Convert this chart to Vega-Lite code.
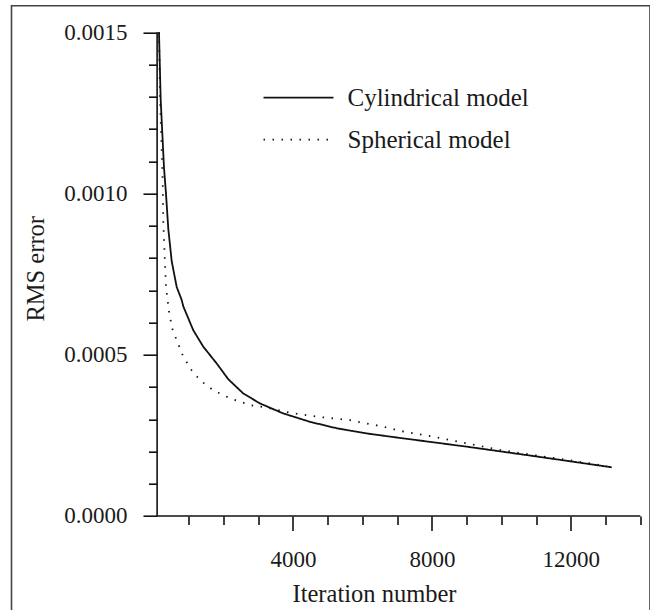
{
  "$schema": "https://vega.github.io/schema/vega-lite/v6.json",
  "width": 638.5,
  "height": 608.3,
  "autosize": {"type": "none"},
  "padding": {"left": 11.5, "top": 5.7, "right": 0, "bottom": 0},
  "background": "white",
  "config": {"view": {"stroke": "#444", "strokeWidth": 1.6}, "font": "Liberation Serif, Times New Roman, serif"},
  "datasets": {
    "axes": [
      {"iteration": 90, "iteration2": 14000, "rms": 0, "rms2": 0},
      {"iteration": 90, "iteration2": 90, "rms": 0, "rms2": 0.0015}
    ],
    "curves": [
      {"model": "Cylindrical model", "iteration": 144, "rms": 0.0015},
      {"model": "Cylindrical model", "iteration": 193, "rms": 0.00129},
      {"model": "Cylindrical model", "iteration": 288, "rms": 0.00108},
      {"model": "Cylindrical model", "iteration": 345, "rms": 0.001},
      {"model": "Cylindrical model", "iteration": 412, "rms": 0.00089},
      {"model": "Cylindrical model", "iteration": 510, "rms": 0.00079},
      {"model": "Cylindrical model", "iteration": 654, "rms": 0.00071},
      {"model": "Cylindrical model", "iteration": 797, "rms": 0.00067},
      {"model": "Cylindrical model", "iteration": 844, "rms": 0.00065},
      {"model": "Cylindrical model", "iteration": 1131, "rms": 0.000576},
      {"model": "Cylindrical model", "iteration": 1419, "rms": 0.000525},
      {"model": "Cylindrical model", "iteration": 1805, "rms": 0.000473},
      {"model": "Cylindrical model", "iteration": 2139, "rms": 0.000424},
      {"model": "Cylindrical model", "iteration": 2571, "rms": 0.00038},
      {"model": "Cylindrical model", "iteration": 3052, "rms": 0.000349},
      {"model": "Cylindrical model", "iteration": 3722, "rms": 0.000318},
      {"model": "Cylindrical model", "iteration": 4491, "rms": 0.000292},
      {"model": "Cylindrical model", "iteration": 5260, "rms": 0.000272},
      {"model": "Cylindrical model", "iteration": 6123, "rms": 0.000256},
      {"model": "Cylindrical model", "iteration": 7082, "rms": 0.000242},
      {"model": "Cylindrical model", "iteration": 9002, "rms": 0.000215},
      {"model": "Cylindrical model", "iteration": 10920, "rms": 0.000186},
      {"model": "Cylindrical model", "iteration": 13177, "rms": 0.000151},
      {"model": "Spherical model", "iteration": 144, "rms": 0.0015},
      {"model": "Spherical model", "iteration": 175, "rms": 0.00129},
      {"model": "Spherical model", "iteration": 250, "rms": 0.00104},
      {"model": "Spherical model", "iteration": 268, "rms": 0.00091},
      {"model": "Spherical model", "iteration": 317, "rms": 0.000783},
      {"model": "Spherical model", "iteration": 345, "rms": 0.000711},
      {"model": "Spherical model", "iteration": 440, "rms": 0.000628},
      {"model": "Spherical model", "iteration": 538, "rms": 0.000576},
      {"model": "Spherical model", "iteration": 654, "rms": 0.000545},
      {"model": "Spherical model", "iteration": 844, "rms": 0.000494},
      {"model": "Spherical model", "iteration": 1085, "rms": 0.000452},
      {"model": "Spherical model", "iteration": 1324, "rms": 0.000421},
      {"model": "Spherical model", "iteration": 1707, "rms": 0.00039},
      {"model": "Spherical model", "iteration": 2188, "rms": 0.000365},
      {"model": "Spherical model", "iteration": 2764, "rms": 0.000344},
      {"model": "Spherical model", "iteration": 3245, "rms": 0.000336},
      {"model": "Spherical model", "iteration": 3916, "rms": 0.00032},
      {"model": "Spherical model", "iteration": 4684, "rms": 0.000308},
      {"model": "Spherical model", "iteration": 5645, "rms": 0.000297},
      {"model": "Spherical model", "iteration": 6601, "rms": 0.000277},
      {"model": "Spherical model", "iteration": 7082, "rms": 0.000264},
      {"model": "Spherical model", "iteration": 8041, "rms": 0.000246},
      {"model": "Spherical model", "iteration": 9002, "rms": 0.000225},
      {"model": "Spherical model", "iteration": 9961, "rms": 0.000205},
      {"model": "Spherical model", "iteration": 10920, "rms": 0.000189},
      {"model": "Spherical model", "iteration": 11881, "rms": 0.000174},
      {"model": "Spherical model", "iteration": 12840, "rms": 0.000158},
      {"model": "Spherical model", "iteration": 13033, "rms": 0.000155}
    ]
  },
  "encoding": {
    "x": {
      "field": "iteration",
      "type": "quantitative",
      "scale": {"domain": [-4102, 14279], "nice": false, "zero": false},
      "axis": {
        "title": "Iteration number",
        "values": [1000, 2000, 3000, 4000, 5000, 6000, 7000, 8000, 9000, 10000, 11000, 12000, 13000, 14000],
        "format": "d",
        "labelExpr": "datum.value % 4000 === 0 ? datum.label : ''",
        "domain": false,
        "grid": false,
        "offset": -98,
        "tickColor": "#111",
        "tickWidth": 1.6,
        "tickSize": {"condition": {"test": "datum.value % 4000 === 0", "value": 14.5}, "value": 8.5},
        "labelFont": "Liberation Serif",
        "labelFontSize": 23,
        "labelColor": "#1a1a1a",
        "labelPadding": 18,
        "labelFlush": false,
        "labelOverlap": false,
        "titleFont": "Liberation Serif",
        "titleFontSize": 24.5,
        "titleFontWeight": "normal",
        "titleColor": "#1a1a1a",
        "titleX": 362.5,
        "titleY": 85.7,
        "titleAlign": "center",
        "titleBaseline": "alphabetic"
      }
    },
    "y": {
      "field": "rms",
      "type": "quantitative",
      "scale": {"domain": [-0.000304, 0.0015825], "nice": false, "zero": false},
      "axis": {
        "title": "RMS error",
        "values": [0, 0.0001, 0.0002, 0.0003, 0.0004, 0.0005, 0.0006, 0.0007, 0.0008, 0.0009, 0.001, 0.0011, 0.0012, 0.0013, 0.0014, 0.0015],
        "format": ".4f",
        "labelExpr": "round(datum.value * 10000) % 5 === 0 ? datum.label : ''",
        "domain": false,
        "grid": false,
        "offset": -145.5,
        "tickColor": "#111",
        "tickWidth": 1.6,
        "tickSize": {"condition": {"test": "round(datum.value * 10000) % 5 === 0", "value": 14}, "value": 8.5},
        "labelFont": "Liberation Serif",
        "labelFontSize": 23,
        "labelColor": "#1a1a1a",
        "labelPadding": 16,
        "labelFlush": false,
        "labelOverlap": false,
        "titleFont": "Liberation Serif",
        "titleFontSize": 24.5,
        "titleFontWeight": "normal",
        "titleColor": "#1a1a1a",
        "titleAngle": 270,
        "titleX": -113.7,
        "titleY": 262.6,
        "titleAlign": "center",
        "titleBaseline": "alphabetic"
      }
    }
  },
  "layer": [
    {
      "data": {"name": "axes"},
      "mark": {"type": "rule", "color": "#111", "strokeWidth": 1.6},
      "encoding": {
        "x2": {"field": "iteration2"},
        "y2": {"field": "rms2"}
      }
    },
    {
      "data": {"name": "curves"},
      "mark": {"type": "line", "color": "#111", "strokeWidth": 1.8},
      "encoding": {
        "strokeDash": {
          "field": "model",
          "type": "nominal",
          "scale": {"domain": ["Cylindrical model", "Spherical model"], "range": [[1, 0], [1.5, 7.5]]},
          "legend": {
            "orient": "none",
            "legendX": 274,
            "legendY": 79,
            "title": null,
            "symbolType": "M-3,0H3",
            "symbolSize": 544,
            "symbolStrokeWidth": 1.8,
            "symbolStrokeColor": "#111",
            "symbolFillColor": "transparent",
            "labelFont": "Liberation Serif",
            "labelFontSize": 25,
            "labelColor": "#1a1a1a",
            "labelOffset": 36,
            "labelLimit": 0,
            "padding": 0,
            "rowPadding": 16
          }
        }
      }
    }
  ]
}
